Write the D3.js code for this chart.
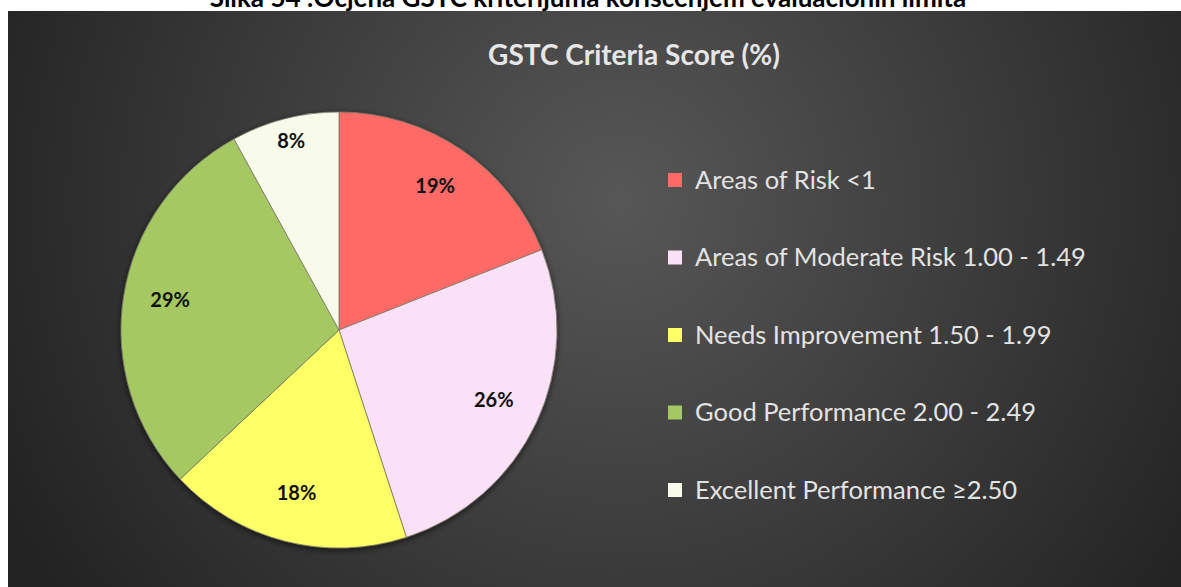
<!DOCTYPE html>
<html lang="en">
<head>
    <meta charset="UTF-8">
    <title>GSTC Criteria Score</title>
    <script src="https://d3js.org/d3.v7.min.js"></script>
    <style>
        body {
            margin: 0;
            background-color: #ffffff;
            font-family: Lato, 'Noto Sans', Arial, sans-serif;
        }
        svg { display: block; }
    </style>
</head>
<body>
    <div id="chart"></div>

    <script>
        // Data
        const categories = [
            "Areas of Risk <1",
            "Areas of Moderate Risk 1.00 - 1.49",
            "Needs Improvement 1.50 - 1.99",
            "Good Performance 2.00 - 2.49",
            "Excellent Performance \u22652.50"
        ];
        const values = [19, 26, 18, 29, 8];
        const colors = ["#ff6a66", "#fbe1f8", "#ffff66", "#a5c863", "#f8fbea"];

        const caption = "Slika 54 :Ocjena GSTC kriterijuma korišćenjem evaluacionih limita";
        const title = "GSTC Criteria Score (%)";

        const W = 1181, H = 587;
        const svg = d3.select("#chart")
            .append("svg")
            .attr("width", W)
            .attr("height", H);

        const defs = svg.append("defs");
        const grad = defs.append("radialGradient")
            .attr("id", "bg")
            .attr("gradientUnits", "userSpaceOnUse")
            .attr("cx", 620).attr("cy", 200).attr("r", 680);
        grad.append("stop").attr("offset", "0%").attr("stop-color", "#575757");
        grad.append("stop").attr("offset", "100%").attr("stop-color", "#232323");

        const shadow = defs.append("filter")
            .attr("id", "shadow")
            .attr("x", "-20%").attr("y", "-20%")
            .attr("width", "140%").attr("height", "140%");
        shadow.append("feDropShadow")
            .attr("dx", 0).attr("dy", 2)
            .attr("stdDeviation", 3)
            .attr("flood-color", "#000")
            .attr("flood-opacity", 0.6);

        // caption above the chart image (its top is cut off by the page edge)
        svg.append("text")
            .attr("x", 588)
            .attr("y", 7)
            .attr("text-anchor", "middle")
            .style("font-family", "Lato, 'Noto Sans', sans-serif")
            .style("font-weight", "bold")
            .style("font-size", "26px")
            .style("fill", "#000")
            .text(caption);

        // chart background
        svg.append("rect")
            .attr("x", 8).attr("y", 11)
            .attr("width", W - 8).attr("height", H - 11)
            .attr("fill", "url(#bg)");

        svg.append("text")
            .attr("x", 634)
            .attr("y", 65)
            .attr("text-anchor", "middle")
            .style("font-weight", "bold")
            .style("font-size", "28px")
            .style("fill", "#e6e6e6")
            .text(title);

        // Pie
        const cx = 339, cy = 330, R = 218;
        const color = d3.scaleOrdinal().domain(categories).range(colors);

        const pie = d3.pie()
            .value(d => d.value)
            .sort(null);

        const data = categories.map((c, i) => ({ name: c, value: values[i] }));
        const arcs = pie(data);

        const arc = d3.arc().innerRadius(0).outerRadius(R);
        const labelArc = d => d3.arc()
            .innerRadius(d.data.value < 10 ? 192 : 171)
            .outerRadius(d.data.value < 10 ? 192 : 171);

        const g = svg.append("g")
            .attr("transform", `translate(${cx},${cy})`);

        g.append("g")
            .attr("filter", "url(#shadow)")
            .selectAll("path")
            .data(arcs)
            .enter()
            .append("path")
            .attr("d", arc)
            .attr("fill", d => color(d.data.name))
            .attr("stroke", "#7a7a66")
            .attr("stroke-width", 0.8);

        g.selectAll(".lbl")
            .data(arcs)
            .enter()
            .append("text")
            .attr("class", "lbl")
            .attr("transform", d => `translate(${labelArc(d).centroid(d)})`)
            .attr("text-anchor", "middle")
            .attr("dy", "0.2em")
            .style("font-weight", "bold")
            .style("font-size", "20px")
            .style("fill", "#111")
            .text(d => d.data.value + "%");

        // Legend
        const legend = svg.append("g")
            .attr("transform", "translate(668,180)");

        const items = legend.selectAll(".item")
            .data(categories)
            .enter()
            .append("g")
            .attr("class", "item")
            .attr("transform", (d, i) => `translate(0,${i * 77.5})`);

        items.append("rect")
            .attr("x", 0).attr("y", -7)
            .attr("width", 14).attr("height", 14)
            .attr("fill", d => color(d));

        items.append("text")
            .attr("x", 27)
            .attr("dy", "0.35em")
            .style("font-size", "25.5px")
            .style("fill", "#e3e3e3")
            .text(d => d);
    </script>
</body>
</html>
